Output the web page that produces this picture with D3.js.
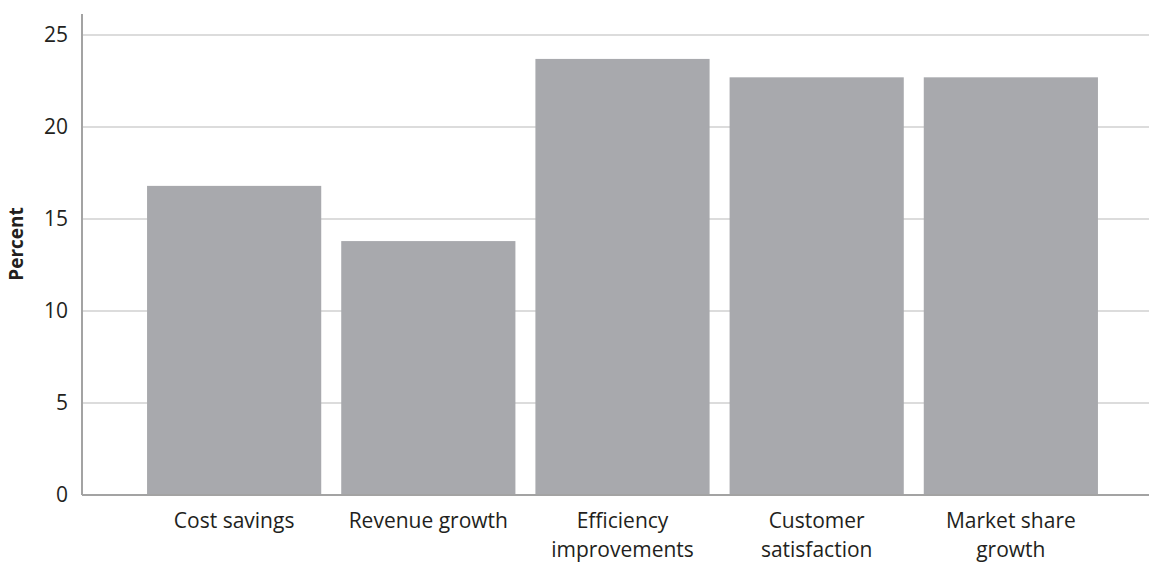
<!DOCTYPE html>
<html>
<head>
<meta charset="utf-8">
<script src="https://cdn.jsdelivr.net/npm/d3@7"></script>
<style>
html, body { margin: 0; padding: 0; background: #fff; }
svg { display: block; }
text { font-family: "Open Sans", "Noto Sans", sans-serif; fill: #231f20; }
</style>
</head>
<body>
<svg id="chart" width="1149" height="568"></svg>
<script>
const categories = [["Cost savings"], ["Revenue growth"], ["Efficiency", "improvements"], ["Customer", "satisfaction"], ["Market share", "growth"]];
const categoryKeys = ["Cost savings", "Revenue growth", "Efficiency improvements", "Customer satisfaction", "Market share growth"];
const values = [16.8, 13.8, 23.7, 22.7, 22.7];
const yTicks = [0, 5, 10, 15, 20, 25];
const yLabel = "Percent";

const W = 1149, H = 568;
const svg = d3.select("#chart");
const x0 = 82, baseY = 495;

const y = d3.scaleLinear().domain([0, 25]).range([baseY, 35]);
const x = d3.scaleBand().domain(categoryKeys).range([x0, 1163]).paddingInner(0.103).paddingOuter(0.335);

// gridlines
svg.append("g").selectAll("line").data(yTicks.filter(d => d > 0)).join("line")
  .attr("x1", x0).attr("x2", W)
  .attr("y1", d => y(d)).attr("y2", d => y(d))
  .attr("stroke", "#dcdcdc").attr("stroke-width", 2);

// bars
svg.append("g").selectAll("rect").data(values).join("rect")
  .attr("x", (d, i) => x(categoryKeys[i]))
  .attr("width", x.bandwidth())
  .attr("y", d => y(d))
  .attr("height", d => baseY - y(d))
  .attr("fill", "#a8a9ad");

// axes lines
svg.append("line").attr("x1", x0).attr("x2", x0).attr("y1", 14).attr("y2", baseY)
  .attr("stroke", "#a3a3a3").attr("stroke-width", 2);
svg.append("line").attr("x1", x0).attr("x2", W).attr("y1", baseY).attr("y2", baseY)
  .attr("stroke", "#a3a3a3").attr("stroke-width", 2);

// y tick labels
svg.append("g").selectAll("text").data(yTicks).join("text")
  .attr("x", 68).attr("y", d => y(d)).attr("dy", "0.35em")
  .attr("text-anchor", "end").attr("font-size", 21)
  .text(d => d);

// y label
svg.append("text")
  .attr("transform", "translate(16,244) rotate(-90)")
  .attr("text-anchor", "middle").attr("dy", "0.35em")
  .attr("font-size", 19).attr("font-weight", "bold")
  .text(yLabel);

// category labels
const cg = svg.append("g");
categories.forEach((lines, i) => {
  const cx = x(categoryKeys[i]) + x.bandwidth() / 2;
  lines.forEach((ln, j) => {
    cg.append("text").attr("x", cx).attr("y", 521 + j * 29).attr("dy", "0.35em")
      .attr("text-anchor", "middle").attr("font-size", 21)
      .text(ln);
  });
});
</script>
</body>
</html>
